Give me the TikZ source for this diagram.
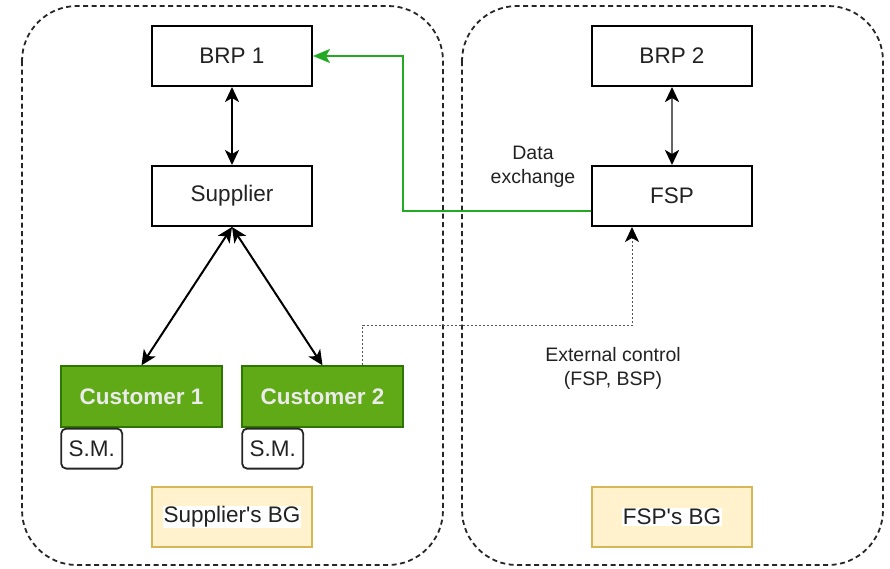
\documentclass[tikz,border=0pt]{standalone}
\usepackage{fontspec}
\setmainfont{Liberation Sans}
\newfontfamily\lib{Liberation Sans}
\usetikzlibrary{arrows.meta,positioning}
\definecolor{txt}{HTML}{222222}
\definecolor{custfill}{HTML}{60A917}
\definecolor{custline}{HTML}{2D7600}
\definecolor{bgfill}{HTML}{FFF2CC}
\definecolor{bgline}{HTML}{D6B656}
\definecolor{dgreen}{HTML}{22AA22}
\definecolor{ctrl}{HTML}{555555}
\tikzset{
  container/.style={draw=black!85, line width=1.8pt, dash pattern=on 5pt off 3.5pt, rounded corners=55pt},
  plainbox/.style={draw=black, line width=2pt, fill=white, minimum width=160pt, minimum height=60pt, inner sep=0pt, text=txt, font=\lib\fontsize{22.5}{26}\selectfont},
  custbox/.style={draw=custline, line width=1.4pt, fill=custfill, minimum width=161pt, minimum height=61pt, inner sep=0pt, text=white!92!black, font=\lib\fontsize{22.5}{26}\selectfont\bfseries},
  smbox/.style={draw=black!85, line width=1.8pt, fill=white, rounded corners=5pt, minimum width=61pt, minimum height=40pt, inner sep=0pt, text=txt, font=\lib\fontsize{22.5}{26}\selectfont},
  bgbox/.style={draw=bgline, line width=1.6pt, fill=bgfill, minimum width=160pt, minimum height=60pt, inner sep=0pt},
  bgtext/.style={fill=white, inner sep=1pt, text=txt, font=\lib\fontsize{22.5}{26}\selectfont},
  lbl/.style={align=center, text=txt, font=\lib\fontsize{19.5}{24}\selectfont},
  biarrow/.style={line width=2pt, {Stealth[length=15pt,width=14pt,inset=4pt,color=black]}-{Stealth[length=15pt,width=14pt,inset=4pt,color=black]}},
}
\begin{document}
\begin{tikzpicture}[x=1pt,y=-1pt]
\useasboundingbox[fill=white] (0,0) rectangle (890,568);
% containers
\draw[container] (22,6) rectangle (443,565);
\draw[container] (462,6) rectangle (883,565);
% boxes
\node[plainbox] (brp1) at (232,56) {BRP 1};
\node[plainbox] (sup) at (232,196) {Supplier};
\node[plainbox] (brp2) at (672,56) {BRP 2};
\node[plainbox] (fsp) at (672,196) {FSP};
\node[custbox] (c1) at (141.5,396.5) {Customer 1};
\node[custbox] (c2) at (322.5,396.5) {Customer 2};
\node[smbox, anchor=north west] (sm1) at (c1.south west) {S.M.};
\node[smbox, anchor=north west] (sm2) at (c2.south west) {S.M.};
\node[bgbox] (bg1) at (232,517) {};
\node[bgtext] (bg1t) at (bg1.center) {Supplier's BG};
\node[bgbox] (bg2) at (672,517) {};
\node[bgtext] (bg2t) at (bg2.center) {FSP's BG};
% labels
\node[lbl] (dx) at (533,167) {Data\\exchange};
\node[lbl] (ec) at (613,368) {External control\\(FSP, BSP)};
% connectors
\draw[biarrow] (brp1.south) -- (sup.north);
\draw[biarrow, draw=black!60, line width=2.6pt] (brp2.south) -- (fsp.north);
\draw[biarrow] (sup.south) -- (c1.north);
\draw[biarrow] (sup.south) -- (c2.north);
\coordinate (gstart) at ([yshift=-15pt]fsp.west);
\draw[dgreen, line width=2pt, -{Stealth[length=17pt,width=14pt,inset=4pt]}] (gstart) -| (403,56) -- (brp1.east);
\coordinate (cstart) at ([xshift=40pt]c2.north);
\coordinate (cend) at ([xshift=-40pt]fsp.south);
\draw[ctrl, line width=1pt, dash pattern=on 2pt off 2pt, -{Stealth[length=15pt,width=14pt,inset=4pt,color=black]}] (cstart) -- ++(0,-40) -| (cend);
\end{tikzpicture}
\end{document}
